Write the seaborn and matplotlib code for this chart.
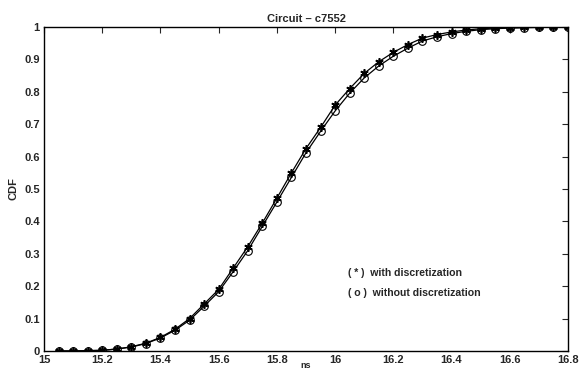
import numpy as np
import pandas as pd
import matplotlib
matplotlib.use("Agg")
import matplotlib.pyplot as plt
import seaborn as sns

# delay values (ns), sampled every 0.05
ns = [15.05, 15.10, 15.15, 15.20, 15.25, 15.30, 15.35, 15.40, 15.45, 15.50,
      15.55, 15.60, 15.65, 15.70, 15.75, 15.80, 15.85, 15.90, 15.95, 16.00,
      16.05, 16.10, 16.15, 16.20, 16.25, 16.30, 16.35, 16.40, 16.45, 16.50,
      16.55, 16.60, 16.65, 16.70, 16.75, 16.80]

cdf_with = [0.000, 0.000, 0.001, 0.002, 0.006, 0.013, 0.024, 0.042, 0.067, 0.100,
            0.145, 0.190, 0.256, 0.322, 0.395, 0.472, 0.550, 0.625, 0.690, 0.759,
            0.810, 0.857, 0.893, 0.922, 0.946, 0.966, 0.977, 0.985, 0.991, 0.995,
            0.997, 0.998, 0.999, 1.000, 1.000, 1.000]

cdf_without = [0.000, 0.000, 0.001, 0.002, 0.006, 0.012, 0.023, 0.040, 0.064, 0.095,
               0.138, 0.183, 0.245, 0.310, 0.385, 0.460, 0.536, 0.612, 0.678, 0.741,
               0.796, 0.843, 0.880, 0.910, 0.935, 0.957, 0.970, 0.980, 0.987, 0.992,
               0.995, 0.997, 0.998, 0.999, 1.000, 1.000]

xticks = [15, 15.2, 15.4, 15.6, 15.8, 16, 16.2, 16.4, 16.6, 16.8]
xticklabels = ["15", "15.2", "15.4", "15.6", "15.8", "16", "16.2", "16.4", "16.6", "16.8"]
yticks = [0, 0.1, 0.2, 0.3, 0.4, 0.5, 0.6, 0.7, 0.8, 0.9, 1]
yticklabels = ["0", "0.1", "0.2", "0.3", "0.4", "0.5", "0.6", "0.7", "0.8", "0.9", "1"]

sns.set_style("white")
plt.rcParams['font.family'] = ['Liberation Sans', 'DejaVu Sans']

fig = plt.figure(figsize=(5.79, 3.71), dpi=100)
ax = fig.add_axes([0.076, 0.054, 0.905, 0.873])

df = pd.DataFrame({'ns': ns, 'with': cdf_with, 'without': cdf_without})
sns.lineplot(data=df, x='ns', y='with', ax=ax, color='black', lw=0.9,
             marker=(6, 2, 0), markersize=6, markeredgewidth=1.2,
             markeredgecolor='black')
sns.lineplot(data=df, x='ns', y='without', ax=ax, color='black', lw=0.9,
             marker='o', markersize=5.5, markerfacecolor='none',
             markeredgecolor='black', markeredgewidth=0.8)

ax.set_xlim(15, 16.8)
ax.set_ylim(0, 1)
ax.set_xticks(xticks)
ax.set_xticklabels(xticklabels)
ax.set_yticks(yticks)
ax.set_yticklabels(yticklabels)
ax.tick_params(direction='in', length=4, width=0.8, top=True, right=True,
               labelsize=8, pad=3)
for lbl in ax.get_xticklabels() + ax.get_yticklabels():
    lbl.set_fontweight('bold')
for s in ax.spines.values():
    s.set_color('black')
    s.set_linewidth(1.0)

ax.set_title('Circuit – c7552', fontsize=8, fontweight='bold', pad=4)
ax.set_xlabel('ns', fontsize=6.5, fontweight='bold', labelpad=-3)
ax.set_ylabel('CDF', fontsize=8, fontweight='bold', labelpad=4)

ax.text(16.045, 0.24, '( * )  with discretization', fontsize=7.6,
        fontweight='bold', va='center')
ax.text(16.045, 0.178, '( o )  without discretization', fontsize=7.6,
        fontweight='bold', va='center')

fig.savefig('out.png', dpi=100)
